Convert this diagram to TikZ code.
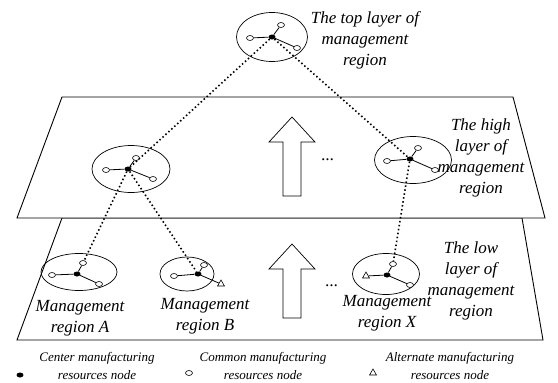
\documentclass[tikz,border=0pt]{standalone}
\usepackage{fontspec}
\setmainfont{Liberation Serif}
\usetikzlibrary{shapes.geometric}

\begin{document}
\begin{tikzpicture}[x=1pt,y=-1pt,
  font={\fontsize{17}{21}\selectfont\itshape},
  plane/.style={draw,line width=0.9pt,fill=white},
  region/.style={draw,ellipse,line width=0.7pt,inner sep=0pt},
  centre/.style={ellipse,fill=black,minimum width=7pt,minimum height=5pt,inner sep=0pt},
  common/.style={draw,ellipse,fill=white,line width=0.6pt,minimum width=7pt,minimum height=5pt,inner sep=0pt},
  spare/.style={draw,regular polygon,regular polygon sides=3,fill=white,line width=0.6pt,minimum size=8pt,inner sep=0pt},
  spoke/.style={line width=0.8pt},
  link/.style={line width=1.6pt,dash pattern=on 1.5pt off 2.5pt},
  lbl/.style={align=center,inner sep=0pt},
  key/.style={align=center,inner sep=0pt,font={\fontsize{13}{18}\selectfont\itshape}}]

\useasboundingbox (0,0) rectangle (558,383);

\draw[plane] (62,218) -- (522,218) -- (543,340) -- (17,340) -- cycle;
\draw[plane] (62,97) -- (513,97) -- (545,218) -- (17,218) -- cycle;

\foreach \t/\b in {117/196,244/318}
  \draw[line width=0.7pt] (292,\t) -- (315,\t+25) -- (301,\t+25) -- (301,\b)
    -- (283,\b) -- (283,\t+25) -- (269,\t+25) -- cycle;

\foreach \n/\x/\y/\w/\h in {top/272/37/71/49,hl/131/169/78/47,hr/413/160/77/47,
    la/79/272/76/37,lb/187/274/54/34,lx/386/274/67/41}
  \node[region,minimum width=\w pt,minimum height=\h pt] (\n) at (\x,\y) {};

\foreach \n/\x/\y in {top/272/37,hl/128/169,hr/410/159,la/77/274,lb/198/274,lx/387/275}
  \node[centre] (\n-c) at (\x,\y) {};

\foreach \n/\s/\x/\y/\k in {top/u/281/25/common,top/l/250/38/common,top/r/297/48/common,
    hl/u/136/158/common,hl/l/106/170/common,hl/r/153/179/common,
    hr/u/418/148/common,hr/l/387/161/common,hr/r/435/170/common,
    la/u/83/263/common,la/l/52/275/common,la/r/99/284/common,
    lb/u/204/265/common,lb/l/174/276/common,lb/r/221/284/spare,
    lx/u/393/264/common,lx/l/366/276/spare,lx/r/410/285/common}
  {
  \node[\k] (\n-\s) at (\x,\y) {};
  \draw[spoke] (\n-c) -- (\n-\s);
  }

\foreach \a/\b in {top-c/hl-c,top-c/hr-c,hl-c/la-u,hl-c/lb-c,hr-c/lx-u}
  \draw[link] (\a) -- (\b);

\node[lbl] (top-t) at (365,40) {The top layer of\\management\\region};
\node[lbl] (high-t) at (481,158) {The high\\layer of\\management\\region};
\node[lbl] (low-t) at (471,281) {The low\\layer of\\management\\region};
\node[lbl] (la-t) at (80,318) {Management\\region A};
\node[lbl] (lb-t) at (205,316) {Management\\region B};
\node[lbl] (lx-t) at (387,313) {Management\\region X};
\node[lbl] (hdots) at (328,160) {...};
\node[lbl] (ldots) at (332,286) {...};

\node[centre] (kc) at (20,375) {};
\node[key] (kc-t) at (97,366) {Center manufacturing\\resources node};
\node[common] (kn) at (189,373) {};
\node[key] (kn-t) at (263,366) {Common manufacturing\\resources node};
\node[spare] (ka) at (373,373) {};
\node[key] (ka-t) at (450,366) {Alternate manufacturing\\resources node};
\end{tikzpicture}
\end{document}
